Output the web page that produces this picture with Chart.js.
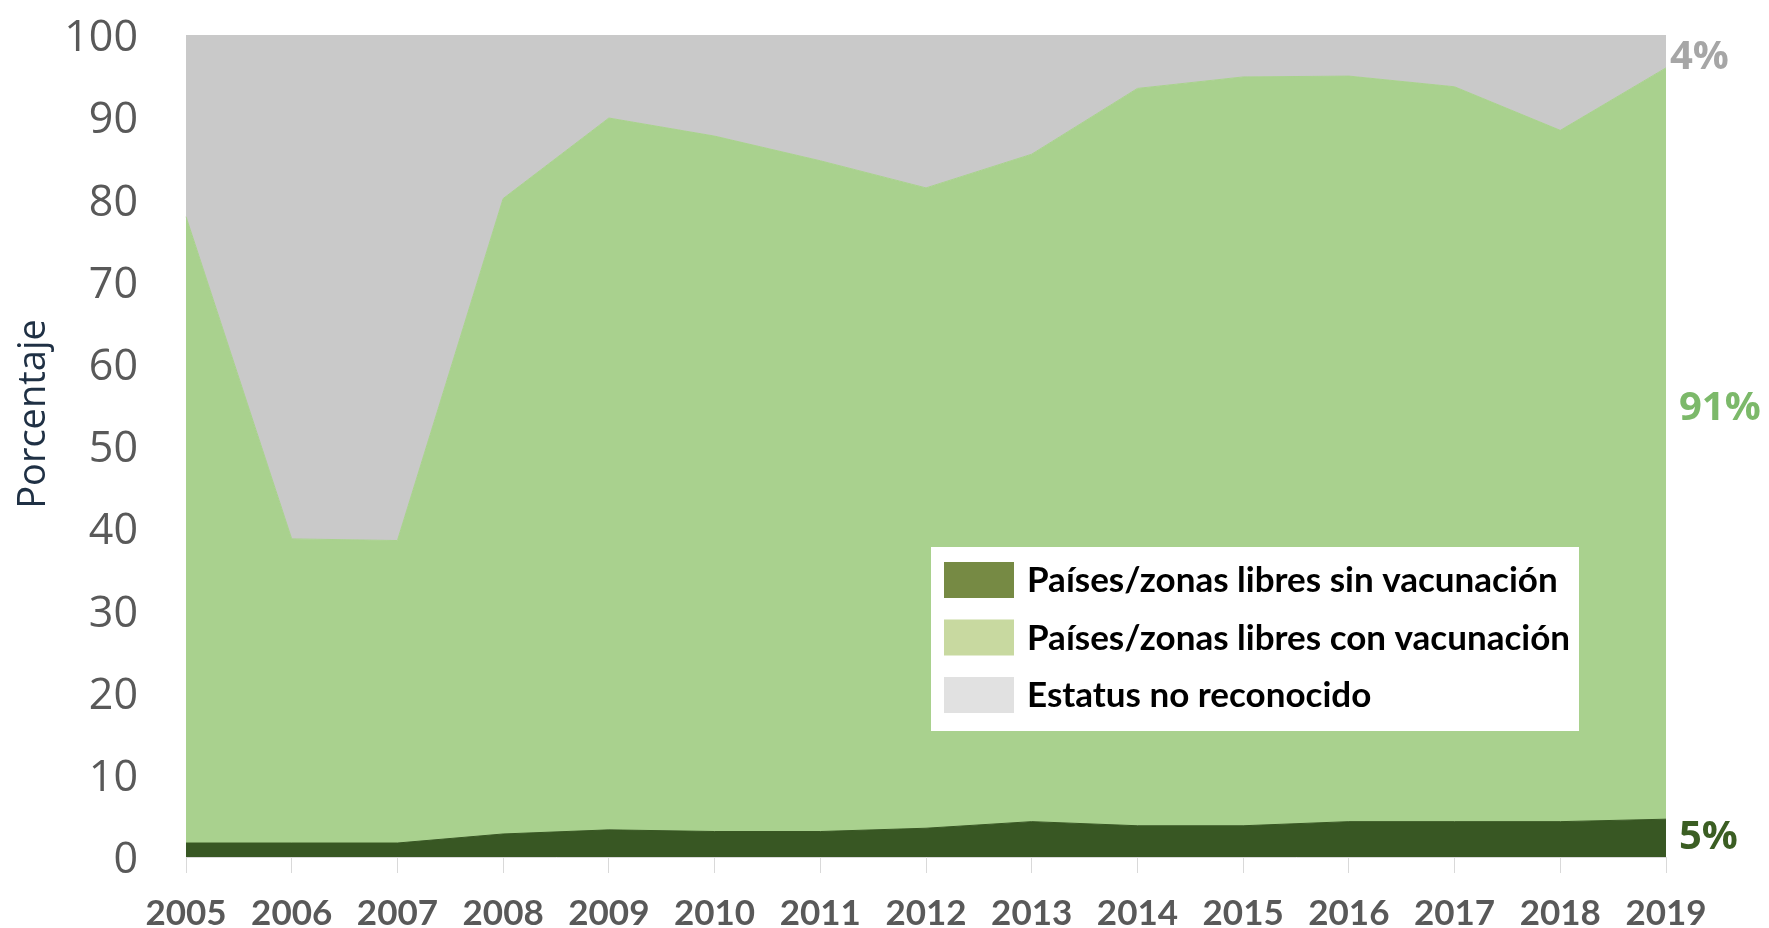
<!DOCTYPE html>
<html>
<head>
<meta charset="utf-8">
<script src="https://cdn.jsdelivr.net/npm/chart.js@4.4.1/dist/chart.umd.min.js"></script>
<style>
  html, body { margin: 0; padding: 0; background: #ffffff; }
  #wrap { width: 1769px; height: 928px; }
</style>
</head>
<body>
<div id="wrap"><canvas id="chart" width="1769" height="928"></canvas></div>
<script>
// Years on the x axis
const years = ['2005', '2006', '2007', '2008', '2009', '2010', '2011', '2012', '2013', '2014', '2015', '2016', '2017', '2018', '2019'];

// Percentages (stacked bottom to top)
const sinVacunacion = [1.7, 1.7, 1.7, 2.8, 3.3, 3.1, 3.1, 3.5, 4.3, 3.8, 3.8, 4.3, 4.3, 4.3, 4.6];
const conVacunacion = [76.2, 37.0, 36.8, 77.3, 86.6, 84.6, 81.6, 77.9, 81.2, 89.7, 91.1, 90.7, 89.4, 84.1, 91.4];
const noReconocido = [22.1, 61.3, 61.5, 19.9, 10.1, 12.3, 15.3, 18.6, 14.5, 6.5, 5.1, 5.0, 6.3, 11.6, 4.0];

const yTicks = [0, 10, 20, 30, 40, 50, 60, 70, 80, 90, 100];

const seriesNames = ['Países/zonas libres sin vacunación', 'Países/zonas libres con vacunación', 'Estatus no reconocido'];
const endLabels = ['5%', '91%', '4%'];
const yTitle = 'Porcentaje';

const areaColors = ['#385723', '#a9d18e', '#c9c9c9'];
const swatchColors = ['#768a44', '#c8d9a0', '#e1e1e1'];
const labelColors = ['#3b5e23', '#7cb96a', '#a6a6a6'];

// legend box drawn inside the plot, like the original
const boxLegend = {
    id: 'boxLegend',
    afterDatasetsDraw(chart) {
        const ctx = chart.ctx;
        ctx.save();
        ctx.fillStyle = '#ffffff';
        ctx.fillRect(931, 547, 648, 184);
        ctx.font = 'bold 35px Lato';
        ctx.textBaseline = 'middle';
        ctx.textAlign = 'left';
        seriesNames.forEach((name, i) => {
            const cy = 580 + i * 57.5;
            ctx.fillStyle = swatchColors[i];
            ctx.fillRect(944, cy - 18, 70, 36);
            ctx.fillStyle = '#000000';
            ctx.fillText(name, 1027, cy + 1);
        });
        ctx.restore();
    }
};

// percent labels on the right side and the y title
const extraText = {
    id: 'extraText',
    afterDraw(chart) {
        const ctx = chart.ctx;
        const area = chart.chartArea;
        ctx.save();
        ctx.font = 'bold 40px "Open Sans"';
        ctx.textBaseline = 'middle';
        ctx.textAlign = 'left';
        const spots = [[area.right + 13, 838], [area.right + 13, 409], [area.right + 4, 58]];
        endLabels.forEach((t, i) => {
            ctx.fillStyle = labelColors[i];
            ctx.fillText(t, spots[i][0], spots[i][1]);
        });

        ctx.translate(34, 414);
        ctx.rotate(-Math.PI / 2);
        ctx.textAlign = 'center';
        ctx.font = '38px "Open Sans"';
        ctx.fillStyle = '#1f3044';
        ctx.fillText(yTitle, 0, 0);
        ctx.restore();
    }
};

const datasets = [sinVacunacion, conVacunacion, noReconocido].map((vals, i) => ({
    label: seriesNames[i],
    data: vals,
    backgroundColor: areaColors[i],
    borderColor: areaColors[i],
    borderWidth: 1,
    pointRadius: 0,
    tension: 0,
    fill: i === 0 ? 'origin' : '-1'
}));

new Chart(document.getElementById('chart'), {
    type: 'line',
    data: { labels: years, datasets: datasets },
    options: {
        responsive: false,
        animation: false,
        layout: { padding: { top: 35, right: 103, left: 0, bottom: 0 } },
        plugins: {
            legend: { display: false },
            tooltip: { enabled: false }
        },
        scales: {
            x: {
                stacked: true,
                offset: false,
                grid: { display: true, drawOnChartArea: false, drawTicks: true, tickLength: 16, color: '#d9d9d9' },
                border: { display: true, color: '#d9d9d9' },
                ticks: {
                    color: '#595959',
                    font: { family: 'Lato', weight: 'bold', size: 35 },
                    padding: 20,
                    maxRotation: 0,
                    autoSkip: false
                },
                afterFit(scale) { scale.height = 71; }
            },
            y: {
                stacked: true,
                min: 0,
                max: 100,
                afterBuildTicks(scale) { scale.ticks = yTicks.map(v => ({ value: v })); },
                grid: { display: false, drawTicks: false },
                border: { display: false },
                ticks: {
                    color: '#595959',
                    font: { family: 'Open Sans', size: 43 },
                    padding: 48,
                    labelOffset: 4
                },
                afterFit(scale) {
                    scale.width = 186;
                    scale.paddingTop = 0;
                    scale.paddingBottom = 0;
                }
            }
        }
    },
    plugins: [boxLegend, extraText]
});
</script>
</body>
</html>
